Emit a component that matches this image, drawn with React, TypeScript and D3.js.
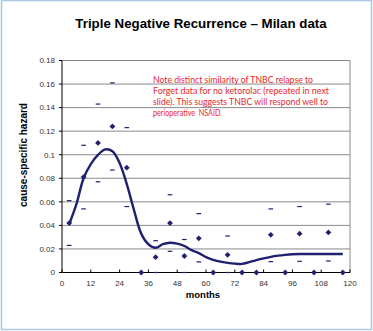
import React from "react";
import * as d3 from "d3";

const months = [3, 9, 15, 21, 27, 33, 39, 45, 51, 57, 63, 69, 75, 81, 87, 93, 99, 105, 111, 117];
const hazard = [0.042, 0.081, 0.110, 0.124, 0.089, 0, 0.013, 0.042, 0.014, 0.029, 0, 0.015, 0, 0, 0.032, 0, 0.033, 0, 0.034, 0];
const upper: (number | null)[] = [0.061, 0.108, 0.143, 0.161, 0.123, null, 0.027, 0.066, 0.028, 0.050, null, 0.031, null, null, 0.054, null, 0.056, null, 0.058, null];
const lower: (number | null)[] = [0.023, 0.054, 0.077, 0.087, 0.056, null, 0, 0.018, 0, 0.009, null, 0, null, null, 0.0092, null, 0.0095, null, 0.0098, null];

const curveMonths = [3, 6, 9, 12, 15, 18, 21, 24, 27, 30, 33, 36, 39, 42, 45, 48, 51, 54, 57, 60, 63, 66, 69, 72, 75, 78, 81, 84, 87, 90, 93, 96, 99, 102, 105, 108, 111, 114, 117];
const curveValues = [0.041, 0.058, 0.080, 0.092, 0.0998, 0.1045, 0.103, 0.093, 0.075, 0.053, 0.033, 0.024, 0.021, 0.024, 0.0253, 0.0245, 0.0225, 0.019, 0.0165, 0.013, 0.0108, 0.0092, 0.0082, 0.0075, 0.0073, 0.0088, 0.0105, 0.012, 0.0133, 0.0143, 0.015, 0.0155, 0.0157, 0.0157, 0.0157, 0.0157, 0.0157, 0.0157, 0.0157];

const xTicks = [0, 12, 24, 36, 48, 60, 72, 84, 96, 108, 120];
const yTicks = [0, 0.02, 0.04, 0.06, 0.08, 0.1, 0.12, 0.14, 0.16, 0.18];
const yTickLabels = ["0", "0.02", "0.04", "0.06", "0.08", "0.1", "0.12", "0.14", "0.16", "0.18"];

const titleText = "Triple Negative Recurrence \u2013 Milan data";
const yLabel = "cause-specific hazard";
const xLabel = "months";
const noteLines = [
  "Note distinct similarity of TNBC relapse to",
  "Forget data for no ketorolac (repeated in next",
  "slide). This suggests TNBC will respond well to",
  "perioperative  NSAID.",
];
const noteWidths = [160, 176, 175, 69];

export default function App() {
  const W = 373, H = 331;
  const x = d3.scaleLinear().domain([0, 120]).range([62, 350]);
  const y = d3.scaleLinear().domain([0, 0.18]).range([272.5, 60.5]);
  const navy = "#1f2170";
  const line = d3
    .line<number>()
    .x((_, i) => x(curveMonths[i]))
    .y((d) => y(d))
    .curve(d3.curveCatmullRom.alpha(0.5));
  const r = 2.9;
  const diamond = `M0,${-r}L${r},0L0,${r}L${-r},0Z`;
  const font = "'Liberation Sans', Arial, sans-serif";

  return (
    <svg width={W} height={H} style={{ position: "absolute", left: 0, top: 0 }}>
      <rect x={0} y={0} width={W} height={H} fill="#fff" />
      <rect x={1.5} y={0.5} width={370} height={329} fill="none" stroke="#a9c7e6" strokeWidth={1.5} />
      <text x={201} y={28} textAnchor="middle" fontFamily={font} fontWeight="bold" fontSize={13.3} fill="#000">
        {titleText}
      </text>
      {yTicks.slice(1).map((t) => (
        <line key={t} x1={x(0)} x2={x(120)} y1={y(t)} y2={y(t)} stroke="#8a8a8a" strokeWidth={1} />
      ))}
      <line x1={x(120)} x2={x(120)} y1={y(0.18)} y2={y(0)} stroke="#8a8a8a" strokeWidth={1} />
      <line x1={x(0)} x2={x(0)} y1={y(0.18)} y2={y(0)} stroke="#000" strokeWidth={1} />
      <line x1={x(0)} x2={x(120)} y1={y(0)} y2={y(0)} stroke="#000" strokeWidth={1} />
      {yTicks.map((t, i) => (
        <g key={t}>
          <line x1={x(0) - 3} x2={x(0)} y1={y(t)} y2={y(t)} stroke="#000" />
          <text x={55} y={y(t) + 2.8} textAnchor="end" fontFamily={font} fontSize={8} fill="#333">
            {yTickLabels[i]}
          </text>
        </g>
      ))}
      {xTicks.map((t) => (
        <g key={t}>
          <line x1={x(t)} x2={x(t)} y1={y(0)} y2={y(0) - 3} stroke="#000" />
          <text x={x(t)} y={285.5} textAnchor="middle" fontFamily={font} fontSize={8} fill="#333">
            {t}
          </text>
        </g>
      ))}
      <text x={203} y={298} textAnchor="middle" fontFamily={font} fontWeight="bold" fontSize={9.5} fill="#000">
        {xLabel}
      </text>
      <text
        transform={`translate(26.5,155) rotate(-90)`}
        textAnchor="middle"
        fontFamily={font}
        fontWeight="bold"
        fontSize={10}
        fill="#000"
      >
        {yLabel}
      </text>
      {months.map((m, i) =>
        [upper[i], lower[i]].map((v, j) =>
          v === null ? null : (
            <rect key={`${i}-${j}`} x={x(m) - 2.3} y={y(v) - 0.6} width={4.6} height={1.2} fill={navy} />
          )
        )
      )}
      <path d={line(curveValues) || ""} fill="none" stroke={navy} strokeWidth={2.4} />
      {months.map((m, i) => (
        <path key={m} d={diamond} transform={`translate(${x(m)},${y(hazard[i])})`} fill={navy} />
      ))}
      {noteLines.map((l, i) => (
        <text
          key={i}
          x={153}
          y={82.8 + i * 11}
          fontFamily="Lato, 'Open Sans', sans-serif"
          fontSize={8.8}
          fill="#e8262b"
          textLength={noteWidths[i]}
          lengthAdjust="spacingAndGlyphs"
          style={{ whiteSpace: "pre" }}
        >
          {l}
        </text>
      ))}
    </svg>
  );
}
